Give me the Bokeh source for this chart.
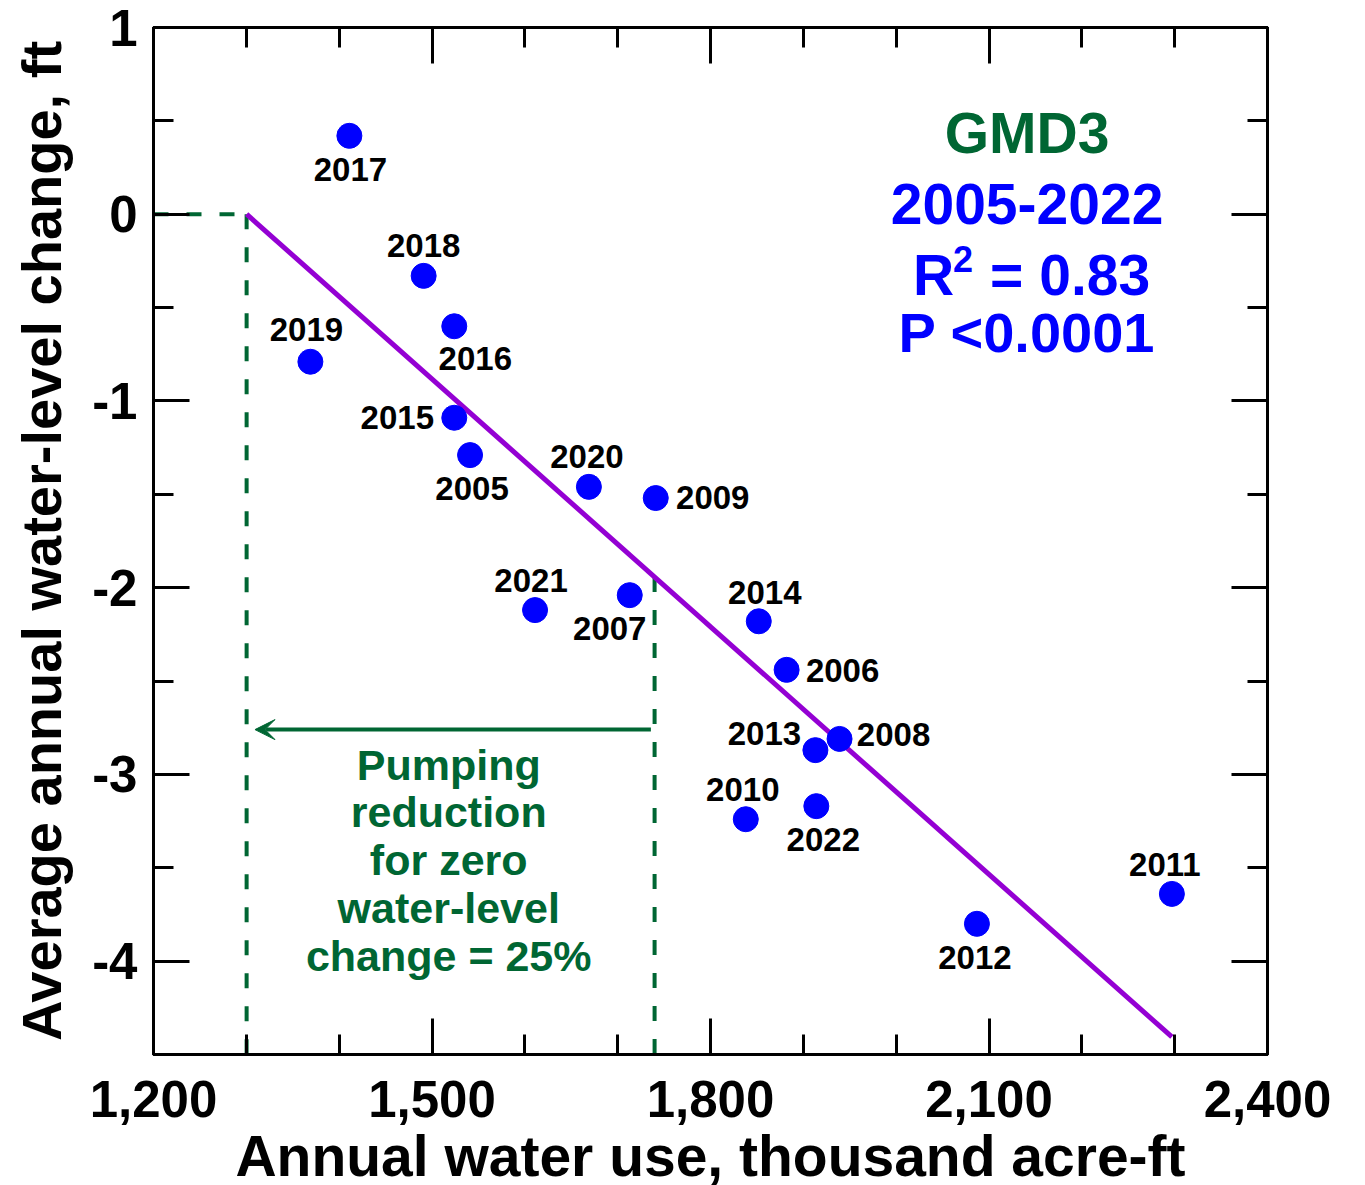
import numpy as np
from bokeh.plotting import figure
from bokeh.models import (Range1d, LinearAxis, SingleIntervalTicker, NumeralTickFormatter,
                          CustomJSTickFormatter, ColumnDataSource, Arrow, VeeHead)
from bokeh.core.properties import value
from bokeh.embed import file_html
from bokeh.resources import INLINE

# ---- data ----
years = ["2005", "2006", "2007", "2008", "2009", "2010", "2011", "2012", "2013",
         "2014", "2015", "2016", "2017", "2018", "2019", "2020", "2021", "2022"]
water_use = [1541, 1882, 1713, 1939, 1741, 1838, 2297, 2087, 1913,
             1852, 1524, 1524, 1411, 1491, 1369, 1669, 1611, 1914]
level_change = [-1.29, -2.44, -2.04, -2.81, -1.52, -3.24, -3.64, -3.80, -2.87,
                -2.18, -1.09, -0.60, 0.42, -0.33, -0.79, -1.46, -2.12, -3.17]
# label offsets in screen pixels (dx, dy)
label_dx = [2, 56, -20, 54, 57, -3, -7, -2, -51, 6, -57, 21, 1, 0, -4, -2, -4, 7]
label_dy = [33, 1, 33, -4, -1, -30, -29, 34, -17, -29, 0, 32, 34, -30, -32, -30, -30, 33]

x_ticks_interval = 300
stats_title = ["GMD3", "2005-2022"]
stats_title_colors = ["#006633", "#0000FF"]
stats_title_y = [0.433, 0.053]
r2_text = "0.83"
p_text = "P <0.0001"
r2_y = -0.326
p_y = -0.636
stats_x = 2141
note_lines = ["Pumping", "reduction", "for zero", "water-level", "change = 25%"]
note_y = [-2.952, -3.203, -3.460, -3.717, -3.973]
note_x = 1518
arrow_y = -2.76

GREEN = "#006633"
BLUE = "#0000FF"
FONT = "Liberation Sans"

x = np.array(water_use, dtype=float)
y = np.array(level_change, dtype=float)
slope, intercept = np.polyfit(x, y, 1)
x0 = -intercept / slope
xm = x.mean()
ym = slope * xm + intercept

p = figure(frame_width=1114, frame_height=1027,
           x_range=Range1d(1200, 2400), y_range=Range1d(-4.5, 1),
           output_backend="svg", toolbar_location=None,
           x_axis_location=None, y_axis_location=None,
           min_border_left=153, min_border_right=75, min_border_top=27, min_border_bottom=100)
p.grid.visible = False
p.outline_line_color = "black"
p.outline_line_width = 3
p.background_fill_color = "white"
p.border_fill_color = "white"


def make_axis(kind, labels):
    if kind == "x":
        ax = LinearAxis(ticker=SingleIntervalTicker(interval=x_ticks_interval, num_minor_ticks=3))
        ax.formatter = NumeralTickFormatter(format="0,0")
    else:
        ax = LinearAxis(ticker=SingleIntervalTicker(interval=1, num_minor_ticks=2))
        ax.formatter = CustomJSTickFormatter(code="return tick.toFixed(0).replace('\u2212', '-');")
    ax.axis_line_width = 3
    ax.major_tick_line_width = 3
    ax.minor_tick_line_width = 3
    ax.major_tick_in = 36
    ax.major_tick_out = 0
    ax.minor_tick_in = 20
    ax.minor_tick_out = 0
    if labels:
        ax.major_label_text_font = FONT
        ax.major_label_text_font_style = "bold"
        ax.major_label_text_font_size = "51px"
        ax.major_label_text_color = "black"
        ax.major_label_text_line_height = 1.0
    else:
        ax.major_label_text_font_size = "10px"
        ax.major_label_text_color = None
        ax.major_label_text_alpha = 0
        ax.major_label_standoff = 0
    return ax


xb = make_axis("x", True)
xb.major_label_standoff = 26
xb.axis_label = "Annual water use, thousand acre-ft"
xb.axis_label_text_font = FONT
xb.axis_label_text_font_style = "bold"
xb.axis_label_text_font_size = "57px"
xb.axis_label_text_color = "black"
xb.axis_label_text_line_height = 1.0
xb.axis_label_standoff = 4
p.add_layout(xb, "below")
p.add_layout(make_axis("x", False), "above")

yl = make_axis("y", True)
yl.major_label_standoff = 16
yl.axis_label = "Average annual water-level change, ft"
yl.axis_label_text_font = FONT
yl.axis_label_text_font_style = "bold"
yl.axis_label_text_font_size = "56px"
yl.axis_label_text_color = "black"
yl.axis_label_standoff = 16
p.add_layout(yl, "left")
p.add_layout(make_axis("y", False), "right")

# dashed guide lines
p.line([1200, x0], [0, 0], line_color=GREEN, line_width=4, line_dash="15 18")
p.line([x0, x0], [0, -4.5], line_color=GREEN, line_width=4, line_dash="15 18")
p.line([xm, xm], [ym, -4.5], line_color=GREEN, line_width=4, line_dash="15 18")

# regression line
p.line([x0, x.max()], [0, slope * x.max() + intercept], line_color="#9400D3", line_width=5)

# arrow
p.add_layout(Arrow(end=VeeHead(size=20, line_color=GREEN, fill_color=GREEN, line_width=1),
                   x_start=xm - 4, y_start=arrow_y, x_end=x0 + 9, y_end=arrow_y,
                   line_color=GREEN, line_width=4))

# points
src = ColumnDataSource(dict(x=water_use, y=level_change, t=years, dx=label_dx, dy=label_dy))
p.scatter("x", "y", source=src, size=25, fill_color=BLUE, line_color=BLUE)
p.text("x", "y", text="t", source=src, x_offset="dx", y_offset="dy",
       text_font=value(FONT), text_font_style="bold", text_font_size="33px",
       text_align="center", text_baseline="middle", text_color="black")

# stats text
ssrc = ColumnDataSource(dict(x=[stats_x] * len(stats_title), y=stats_title_y, t=stats_title, c=stats_title_colors))
p.text("x", "y", text="t", source=ssrc, text_color="c",
       text_font=value(FONT), text_font_style="bold", text_font_size="57px",
       text_align="center", text_baseline="middle")
common = dict(text_font=value(FONT), text_font_style="bold", text_color=BLUE, text_baseline="middle")
p.text([stats_x], [r2_y], text=["R"], x_offset=-114, text_font_size="57px", text_align="left", **common)
p.text([stats_x], [r2_y], text=["2"], x_offset=-74, y_offset=-16, text_font_size="36px", text_align="left", **common)
p.text([stats_x], [r2_y], text=["= " + r2_text], x_offset=-37, text_font_size="57px", text_align="left", **common)
p.text([stats_x], [p_y], text=[p_text], text_font_size="56px", text_align="center", **common)

# note text
nsrc = ColumnDataSource(dict(x=[note_x] * len(note_lines), y=note_y, t=note_lines))
p.text("x", "y", text="t", source=nsrc, text_color=GREEN,
       text_font=value(FONT), text_font_style="bold", text_font_size="43px",
       text_align="center", text_baseline="middle")

open("out.html", "w").write(file_html(p, INLINE))
